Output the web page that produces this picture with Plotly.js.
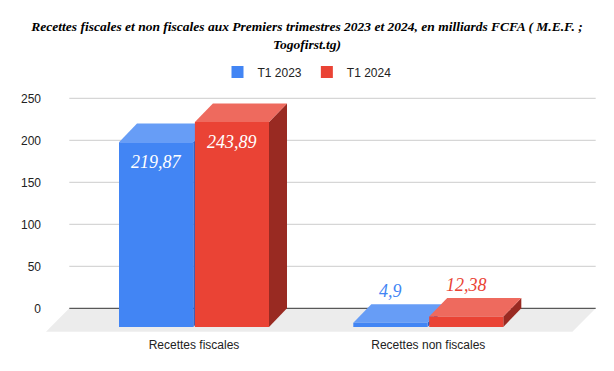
<!DOCTYPE html>
<html>
<head>
<meta charset="utf-8">
<script src="https://cdn.plot.ly/plotly-3.0.1.min.js"></script>
<style>html,body{margin:0;padding:0;background:#fff;}#chart{width:614px;height:371px;}</style>
</head>
<body>
<div id="chart"></div>
<script>
// ---- data ----
const categories = ["Recettes fiscales", "Recettes non fiscales"];
const seriesNames = ["T1 2023", "T1 2024"];
const valuesT1_2023 = [219.87, 4.9];
const valuesT1_2024 = [243.89, 12.38];
const labelsT1_2023 = ["219,87", "4,9"];
const labelsT1_2024 = ["243,89", "12,38"];
const yTicks = [0, 50, 100, 150, 200, 250];

// ---- styling / geometry ----
const W = 614, H = 371;
const M = {l: 46, r: 18, t: 90, b: 39};
const plotW = W - M.l - M.r, plotH = H - M.t - M.b;
const pxPerY = 0.84;          // pixels per value unit
const zeroPx = 308.3;         // pixel row of the back zero line
const catPx = 234.3;          // pixels between categories
const frontCenter0 = 194;     // pixel column of the first category (front face)
const dxPx = 18, dyPx = 18.6; // bar depth
const floorDx = 23.3, floorDy = 23.4;
const yMax = (zeroPx - M.t) / pxPerY;
const yMin = -((H - M.b) - zeroPx) / pxPerY;
const xMin = -(frontCenter0 - M.l) / catPx;
const xMax = xMin + plotW / catPx;
const X = px => xMin + (px - M.l) / catPx;
const dxU = dxPx / catPx, dyU = dyPx / pxPerY;

const colors = {
  front: ["#4285f4", "#ea4335"],
  top:   ["#679df6", "#ee6a5e"],
  side:  ["#2f5fc4", "#992a22"]
};
const barOffset = [-75 / catPx, 0.9 / catPx];
const barWidth = [74.3 / catPx, 74.1 / catPx];
const allValues = [valuesT1_2023, valuesT1_2024];
const allLabels = [labelsT1_2023, labelsT1_2024];

const catX = categories.map((c, i) => i);

const traces = allValues.map((vals, s) => ({
  type: "bar",
  name: seriesNames[s],
  x: catX,
  y: vals,
  base: vals.map(() => -dyU),
  offset: barOffset[s],
  width: barWidth[s],
  marker: {color: colors.front[s], line: {width: 0}},
  hoverinfo: "skip"
}));

const shapes = [];
// floor
const backL = X(M.l + floorDx), backR = X(W - M.r - 0.3);
const frontL = X(M.l), frontR = X(W - M.r - 0.3 - floorDx);
const floorY = -floorDy / pxPerY;
shapes.push({type: "path", xref: "x", yref: "y", layer: "below",
  path: `M${backL},0 L${backR},0 L${frontR},${floorY} L${frontL},${floorY} Z`,
  fillcolor: "#ececec", line: {width: 0}});
// gridlines
yTicks.forEach(t => {
  shapes.push({type: "line", xref: "x", yref: "y", layer: "below",
    x0: backL, x1: backR, y0: t, y1: t,
    line: {color: t === 0 ? "#333333" : "#cccccc", width: 1}});
});
// 3D faces
allValues.forEach((vals, s) => {
  vals.forEach((v, j) => {
    const xl = j + barOffset[s], xr = xl + barWidth[s];
    const ft = v - dyU, fb = -dyU;
    shapes.push({type: "path", xref: "x", yref: "y", layer: "below",
      path: `M${xr},${fb} L${xr},${ft} L${xr + dxU},${v} L${xr + dxU},0 Z`,
      fillcolor: colors.side[s], line: {width: 0}});
    shapes.push({type: "path", xref: "x", yref: "y", layer: "below",
      path: `M${xl},${ft} L${xr},${ft} L${xr + dxU},${v} L${xl + dxU},${v} Z`,
      fillcolor: colors.top[s], line: {width: 0}});
  });
});

// value labels
const annotations = [];
allValues.forEach((vals, s) => {
  vals.forEach((v, j) => {
    const inside = v > 50;
    annotations.push({
      x: j + barOffset[s] + barWidth[s] / 2,
      y: v - dyU,
      xref: "x", yref: "y",
      text: allLabels[s][j],
      showarrow: false,
      yshift: inside ? -20 : 32,
      font: {family: "Liberation Serif, Times New Roman, serif", size: 18, style: "italic",
             color: inside ? "#ffffff" : colors.front[s]}
    });
  });
});

const layout = {
  width: W, height: H,
  margin: M,
  paper_bgcolor: "#ffffff",
  plot_bgcolor: "rgba(0,0,0,0)",
  barmode: "overlay",
  showlegend: true,
  title: {
    text: "<b><i>Recettes fiscales et non fiscales aux Premiers trimestres 2023 et 2024, en milliards FCFA ( M.E.F. ;<br>Togofirst.tg)</i></b>",
    x: 0.5, xanchor: "center",
    y: 1 - 31 / H, yref: "container", yanchor: "top",
    font: {family: "Liberation Serif, Times New Roman, serif", size: 13.5, color: "#000000"}
  },
  legend: {
    orientation: "h", x: (W / 2 - M.l) / plotW, xanchor: "center",
    y: (H - M.b - 72) / plotH, yanchor: "middle",
    font: {family: "Liberation Sans, Arial, sans-serif", size: 12, color: "#222222"},
    itemclick: false, itemdoubleclick: false
  },
  xaxis: {
    range: [xMin, xMax], showgrid: false, zeroline: false, showline: false,
    tickvals: catX, ticktext: categories, ticks: "",
    ticklabelstandoff: 4,
    tickfont: {family: "Liberation Sans, Arial, sans-serif", size: 12, color: "#222222"},
    fixedrange: true
  },
  yaxis: {
    range: [yMin, yMax], showgrid: false, zeroline: false, showline: false,
    tickvals: yTicks, ticks: "",
    ticklabelstandoff: 4,
    tickfont: {family: "Liberation Sans, Arial, sans-serif", size: 12, color: "#222222"},
    fixedrange: true
  },
  shapes: shapes,
  annotations: annotations
};

Plotly.newPlot("chart", traces, layout, {displayModeBar: false, staticPlot: true});
</script>
</body>
</html>
